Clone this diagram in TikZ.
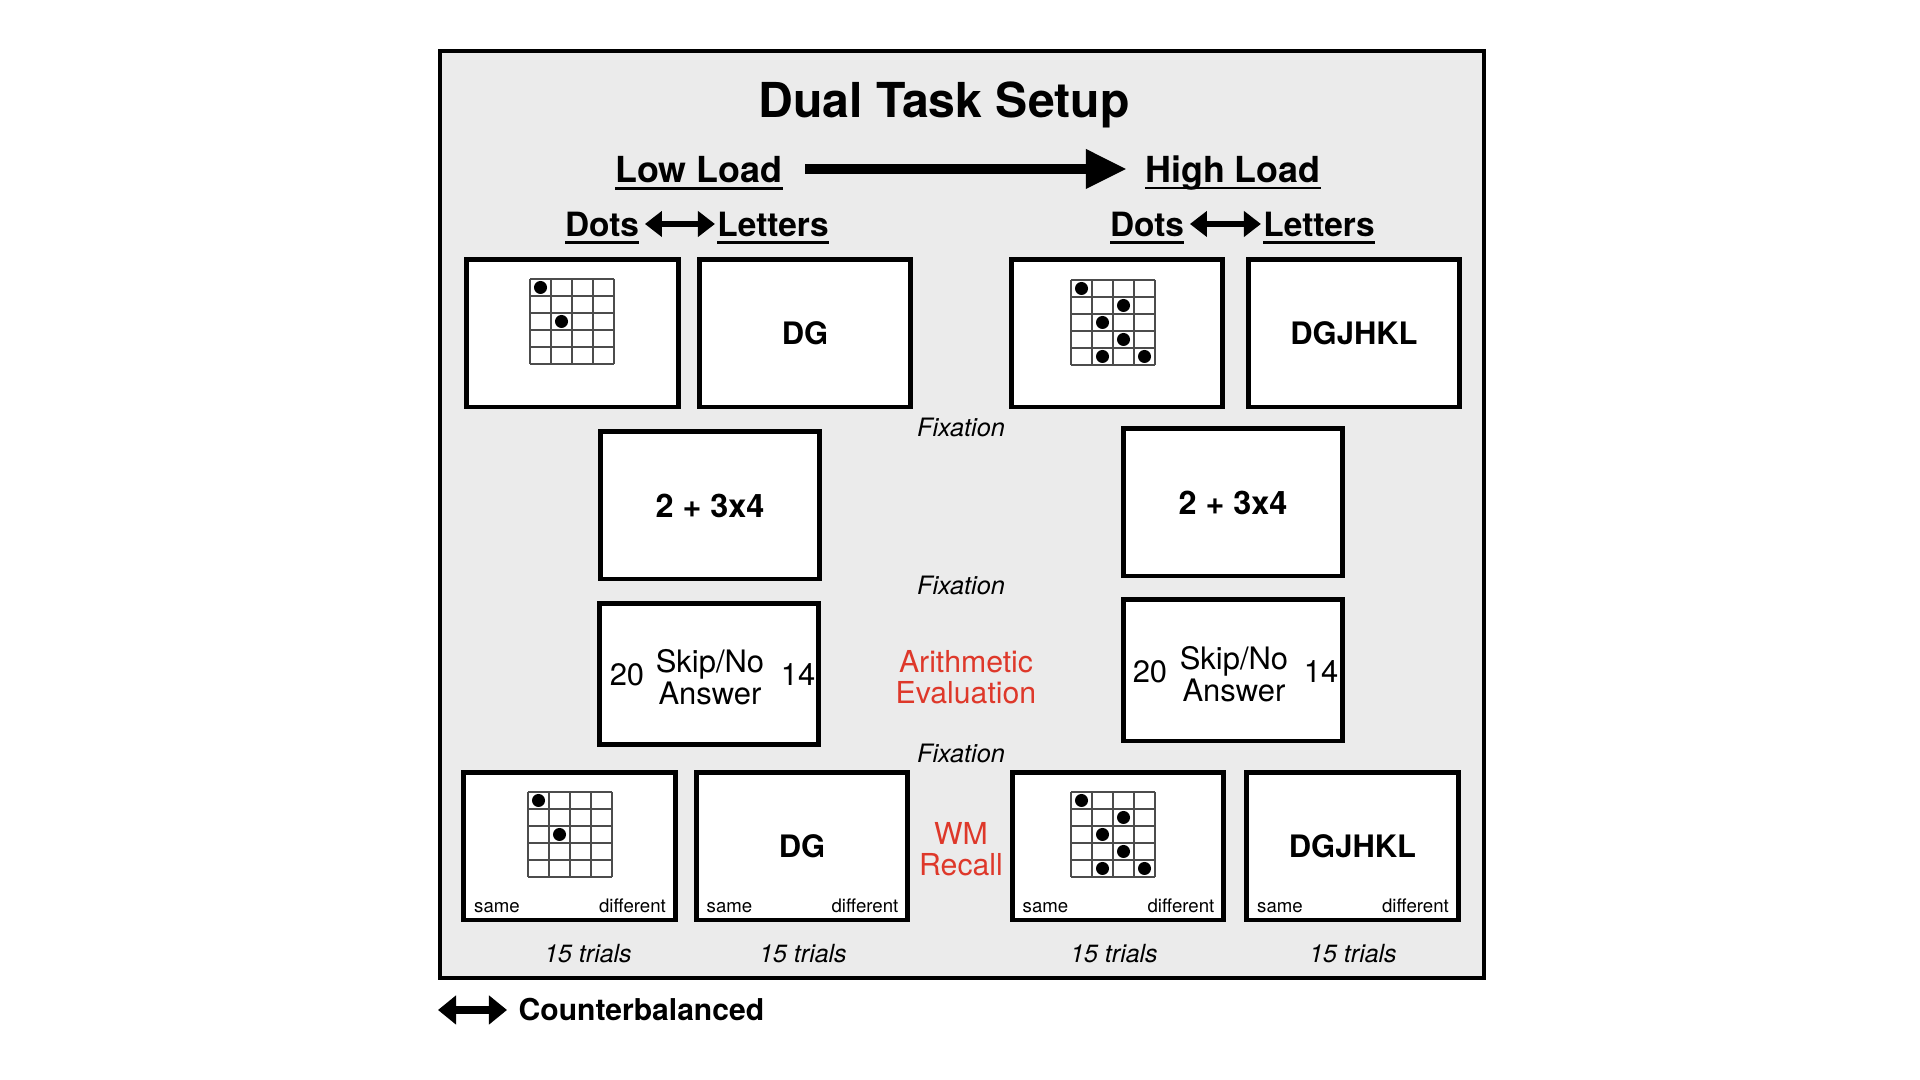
\documentclass[tikz,border=0pt]{standalone}
\usepackage{fontspec}
\setmainfont{TeX Gyre Heros}
\usetikzlibrary{arrows.meta}
\newcommand{\mylightgray}{black!8}
\newcommand{\mygridgray}{black!70}
\definecolor{myred}{RGB}{222,56,42}
\newcommand{\fsz}[2]{\fontsize{#1}{#2}\selectfont}
\newcommand{\myul}[1]{\setbox0=\hbox{#1}\rlap{\rule[-2pt]{\wd0}{.7pt}}\box0}

\begin{document}
\begin{tikzpicture}[x = .01cm, y = -.01cm,
  screen/.style = {draw, line width = 1.4pt, fill = white, inner sep = 0,
    minimum width = 2.11cm, minimum height = 1.47cm},
  widescreen/.style = {screen, minimum width = 2.19cm},
  load/.style = {font = \bfseries\fsz{10.2}{12}, inner sep = .5pt},
  task/.style = {font = \bfseries\fsz{9.5}{11}, inner sep = .5pt},
  stim/.style = {font = \bfseries\fsz{8.8}{10}},
  sum/.style = {font = \bfseries\fsz{9.2}{10}},
  answer/.style = {font = \fsz{8.8}{9.1}, align = center},
  fix/.style = {font = \itshape\fsz{7.2}{8}},
  phase/.style = {font = \fsz{8.6}{8.9}, text = myred, align = center},
  resp/.style = {font = \fsz{5.3}{6}, inner sep = 0},
  trials/.style = {font = \itshape\fsz{7.1}{8}}]
\useasboundingbox (0,0) rectangle (1920,1080);

\draw[line width = 1.4pt, fill = \mylightgray] (440,51) rectangle (1484,978);

% headings
\node[font = \bfseries\fsz{13.7}{16}] (title) at (944,105) {Dual Task Setup};
\node[load] (low) at (699,173) {\myul{Low Load}};
\node[load] (high) at (1233,173) {\myul{High Load}};
\draw[line width = 2.8pt, -{Triangle[length = .41cm, width = .37cm]},
  shorten <= .2cm, shorten >= .16cm] ([yshift = .04cm]low.east) -- ([yshift = .04cm]high.west);

\node[task] (dotslabellow) at (602,228) {\myul{Dots}};
\node[task] (letterslabellow) at (773,228) {\myul{Letters}};
\draw[line width = 1.7pt, {Triangle[length = .17cm, width = .25cm]}-{Triangle[length = .17cm, width = .25cm]},
  shorten <= 1pt] ([yshift = .04cm]dotslabellow.east) -- ([yshift = .04cm]letterslabellow.west);
\node[task] (dotslabelhigh) at (1147,228) {\myul{Dots}};
\node[task] (letterslabelhigh) at (1319,228) {\myul{Letters}};
\draw[line width = 1.7pt, {Triangle[length = .17cm, width = .25cm]}-{Triangle[length = .17cm, width = .25cm]},
  shorten <= 1pt] ([yshift = .04cm]dotslabelhigh.east) -- ([yshift = .04cm]letterslabelhigh.west);

% encoding screens
\node[screen] (dotslow) at (572.5,333.5) {};
\node[screen, stim] (letterslow) at (805,333.5) {DG};
\node[screen] (dotshigh) at (1117,333.5) {};
\node[screen, stim] (lettershigh) at (1354,333.5) {DGJHKL};

\node[fix] (fixone) at (961,427) {Fixation};

% arithmetic screens
\node[widescreen, sum] (sumlow) at (710,505.5) {2 + 3x4};
\node[widescreen, sum] (sumhigh) at (1233,502.5) {2 + 3x4};

\node[fix] (fixtwo) at (961,585) {Fixation};

\node[widescreen, minimum height = 1.41cm, answer] (evallow) at (709,674) {};
\node[answer] (skiplow) at (710,677) {Skip/No\\Answer};
\node[answer] (twentylow) at ([shift = {(30,1)}]evallow.west) {20};
\node[answer] (fourteenlow) at ([shift = {(-23,1)}]evallow.east) {14};
\node[widescreen, minimum height = 1.41cm, answer] (evalhigh) at (1233,670.5) {};
\node[answer] (skiphigh) at (1234,674) {Skip/No\\Answer};
\node[answer] (twentyhigh) at ([shift = {(29,1)}]evalhigh.west) {20};
\node[answer] (fourteenhigh) at ([shift = {(-24,1)}]evalhigh.east) {14};

\node[phase] (arith) at (966,677) {Arithmetic\\Evaluation};

\node[fix] (fixthree) at (961,753) {Fixation};

% recall screens
\node[screen] (recalldotslow) at (569.5,846.5) {};
\node[screen, stim] (recalllettlow) at (802,846.5) {DG};
\node[screen] (recalldotshigh) at (1118,846.5) {};
\node[screen, stim] (recalllethigh) at (1352.5,846.5) {DGJHKL};
\foreach \b in {recalldotslow, recalllettlow, recalldotshigh, recalllethigh} {
  \node[resp, anchor = base west] (\b-same) at ([shift = {(12,-10)}]\b.south west) {same};
  \node[resp, anchor = base east] (\b-diff) at ([shift = {(-11,-10)}]\b.south east) {different};
}

\node[phase] (wm) at (961,849) {WM\\Recall};

% dot grids
\begin{scope}[shift = {(530,279)}]
\foreach \i in {0,...,4} \draw[\mygridgray, line width = .4pt] (\i*21,0) -- (\i*21,85);
\foreach \j in {0,...,5} \draw[\mygridgray, line width = .4pt] (0,\j*17) -- (84,\j*17);
\foreach \c/\r in {1/1, 2/3} \fill (\c*21-10.5,\r*17-8.5) circle (.065cm);
\end{scope}
\begin{scope}[shift = {(1071,280)}]
\foreach \i in {0,...,4} \draw[\mygridgray, line width = .4pt] (\i*21,0) -- (\i*21,85);
\foreach \j in {0,...,5} \draw[\mygridgray, line width = .4pt] (0,\j*17) -- (84,\j*17);
\foreach \c/\r in {1/1, 3/2, 2/3, 3/4, 2/5, 4/5} \fill (\c*21-10.5,\r*17-8.5) circle (.065cm);
\end{scope}
\begin{scope}[shift = {(528,792)}]
\foreach \i in {0,...,4} \draw[\mygridgray, line width = .4pt] (\i*21,0) -- (\i*21,85);
\foreach \j in {0,...,5} \draw[\mygridgray, line width = .4pt] (0,\j*17) -- (84,\j*17);
\foreach \c/\r in {1/1, 2/3} \fill (\c*21-10.5,\r*17-8.5) circle (.065cm);
\end{scope}
\begin{scope}[shift = {(1071,792)}]
\foreach \i in {0,...,4} \draw[\mygridgray, line width = .4pt] (\i*21,0) -- (\i*21,85);
\foreach \j in {0,...,5} \draw[\mygridgray, line width = .4pt] (0,\j*17) -- (84,\j*17);
\foreach \c/\r in {1/1, 3/2, 2/3, 3/4, 2/5, 4/5} \fill (\c*21-10.5,\r*17-8.5) circle (.065cm);
\end{scope}

% trial counts
\node[trials] (trialsdotslow) at (588,954) {15 trials};
\node[trials] (trialsletlow) at (803,954) {15 trials};
\node[trials] (trialsdotshigh) at (1114,954) {15 trials};
\node[trials] (trialslethigh) at (1353,954) {15 trials};

% legend
\coordinate (cbleft) at (438,1010);
\node[font = \bfseries\fsz{8.55}{10}, anchor = west, inner sep = 0] (counter) at (518,1010) {Counterbalanced};
\draw[line width = 2.4pt, {Triangle[length = .18cm, width = .28cm]}-{Triangle[length = .18cm, width = .28cm]},
  shorten >= .11cm] (cbleft) -- (counter);
\end{tikzpicture}
\end{document}
